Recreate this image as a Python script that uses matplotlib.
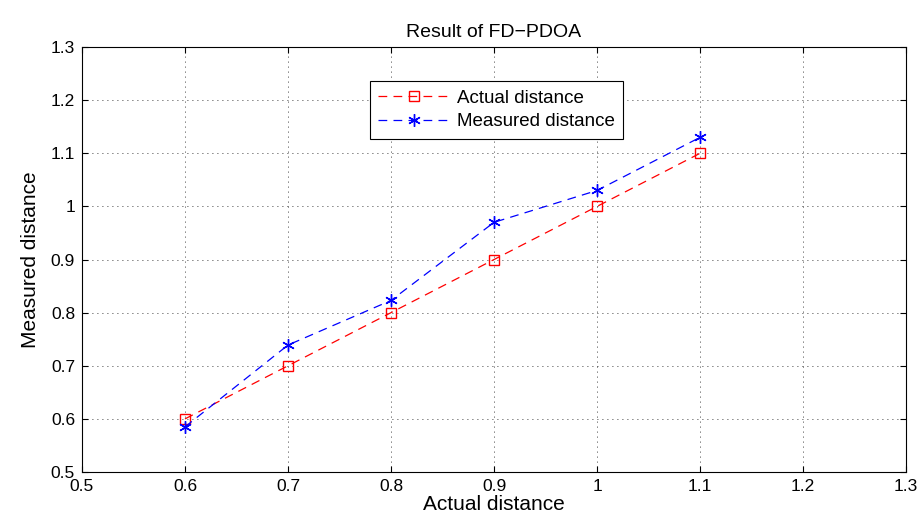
import numpy as np
import matplotlib
matplotlib.use("Agg")
import matplotlib.pyplot as plt

plt.rcParams['font.family'] = ['Liberation Sans', 'DejaVu Sans']

# datos
distancia_real = [0.6, 0.7, 0.8, 0.9, 1.0, 1.1]
actual = [0.6, 0.7, 0.8, 0.9, 1.0, 1.1]
medida = [0.585, 0.739, 0.823, 0.970, 1.030, 1.130]
ticks = [0.5, 0.6, 0.7, 0.8, 0.9, 1.0, 1.1, 1.2, 1.3]
tick_labels = ['0.5', '0.6', '0.7', '0.8', '0.9', '1', '1.1', '1.2', '1.3']

fig = plt.figure(figsize=(9.19, 5.30), dpi=100)
ax = fig.add_axes([0.0892, 0.1094, 0.8968, 0.8019])

ax.plot(distancia_real, actual, color='red', linestyle=(0, (7, 5)), linewidth=0.9,
        marker='s', markersize=7, markerfacecolor='none', markeredgecolor='red',
        markeredgewidth=1.0, label='Actual distance')
ax.plot(distancia_real, medida, color='blue', linestyle=(0, (7, 5)), linewidth=0.9,
        marker=(6, 2, 0), markersize=9, markeredgecolor='blue',
        markeredgewidth=1.0, label='Measured distance')

ax.set_xlim(0.5, 1.3)
ax.set_ylim(0.5, 1.3)
ax.set_xticks(ticks)
ax.set_xticklabels(tick_labels)
ax.set_yticks(ticks)
ax.set_yticklabels(tick_labels)
ax.tick_params(direction='in', top=True, right=True, length=4, labelsize=12.5, pad=5)
ax.grid(True, color='black', linestyle=(0, (1, 5)), linewidth=0.6)
for s in ax.spines.values():
    s.set_linewidth(0.8)

ax.set_title('Result of FD\u2212PDOA', fontsize=14, pad=7)
ax.set_xlabel('Actual distance', fontsize=15, labelpad=1)
ax.set_ylabel('Measured distance', fontsize=15, labelpad=8)

leg = ax.legend(loc='upper left', bbox_to_anchor=(0.349, 0.92), fontsize=13.5,
                fancybox=False, framealpha=1, edgecolor='black', handlelength=3.8,
                borderpad=0.45, labelspacing=0.35, handletextpad=0.4, borderaxespad=0)
leg.get_frame().set_linewidth(0.8)

fig.savefig('out.png', dpi=100)
